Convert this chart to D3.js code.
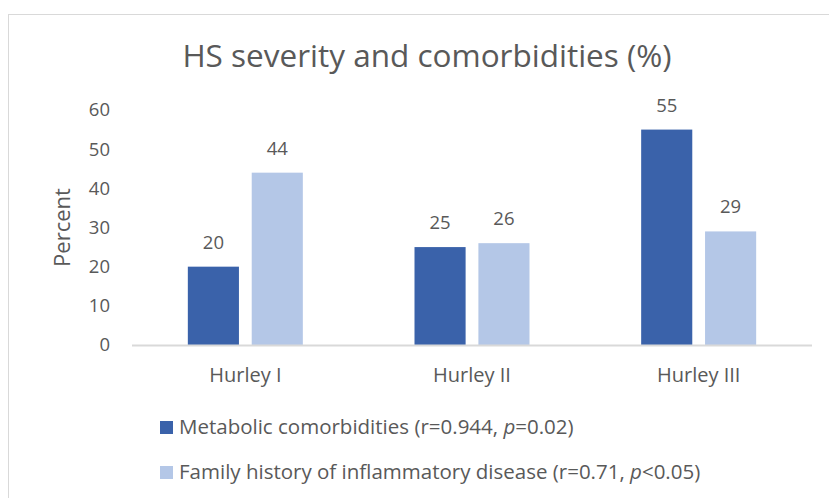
<!DOCTYPE html>
<html>
<head>
<meta charset="utf-8">
<script src="https://cdn.jsdelivr.net/npm/d3@7"></script>
<style>
  body { margin: 0; background: #fff; }
  text { font-family: "Open Sans", sans-serif; fill: #595959; }
</style>
</head>
<body>
<div id="chart"></div>
<script>
// chart data
const categories = ["Hurley I", "Hurley II", "Hurley III"];
const seriesNames = [
  "Metabolic comorbidities",
  "Family history of inflammatory disease"
];
const metabolic = [20, 25, 55];
const familyHistory = [44, 26, 29];
const yTicks = [0, 10, 20, 30, 40, 50, 60];
const colors = ["#3a62aa", "#b4c7e7"];

const width = 829, height = 498;
const margin = {top: 110, right: 17, bottom: 153, left: 132};

var svg = d3.select("#chart").append("svg")
    .attr("width", width)
    .attr("height", height);

// chart border
svg.append("rect")
    .attr("x", 8.5).attr("y", 14.5)
    .attr("width", width).attr("height", height)
    .attr("fill", "none")
    .attr("stroke", "#d9d9d9");

var x0 = d3.scaleBand()
    .domain(categories)
    .range([margin.left, width - margin.right]);

var x1 = d3.scaleBand()
    .domain([0, 1])
    .range([0, 115])
    .paddingInner(0.2);

var y = d3.scaleLinear()
    .domain([0, 60])
    .range([height - margin.bottom, margin.top]);

// title
svg.append("text")
    .attr("x", 427).attr("y", 67)
    .attr("text-anchor", "middle")
    .style("font-size", "31.5px")
    .text("HS severity and comorbidities (%)");

// y axis labels (no line)
var yAxis = svg.append("g")
    .attr("transform", "translate(" + (margin.left - 22) + ",0)")
    .call(d3.axisLeft(y).tickValues(yTicks).tickSize(0).tickPadding(0));
yAxis.select(".domain").remove();
yAxis.selectAll("text")
    .style("font-size", "18.5px")
    .style("font-family", "\"Open Sans\", sans-serif")
    .attr("fill", "#595959");

svg.append("text")
    .attr("transform", "translate(70," + y(30) + ") rotate(-90)")
    .attr("text-anchor", "middle")
    .style("font-size", "22px")
    .text("Percent");

// bars
var series = [metabolic, familyHistory];
var groups = svg.append("g").selectAll("g")
    .data(categories)
    .enter().append("g")
    .attr("transform", function(d) {
      return "translate(" + (x0(d) + x0.bandwidth() / 2 - 57.5) + ",0)";
    });

groups.selectAll("rect")
    .data(function(d, i) { return series.map(function(s, j) { return {s: j, v: s[i]}; }); })
    .enter().append("rect")
    .attr("x", function(d) { return x1(d.s); })
    .attr("y", function(d) { return y(d.v); })
    .attr("width", x1.bandwidth())
    .attr("height", function(d) { return y(0) - y(d.v); })
    .attr("fill", function(d) { return colors[d.s]; });

groups.selectAll("text.val")
    .data(function(d, i) { return series.map(function(s, j) { return {s: j, v: s[i]}; }); })
    .enter().append("text")
    .attr("class", "val")
    .attr("x", function(d) { return x1(d.s) + x1.bandwidth() / 2; })
    .attr("y", function(d) { return y(d.v) - 18; })
    .attr("text-anchor", "middle")
    .style("font-size", "18.5px")
    .text(function(d) { return d.v; });

// baseline
svg.append("line")
    .attr("x1", margin.left).attr("x2", width - margin.right)
    .attr("y1", y(0) + 0.5).attr("y2", y(0) + 0.5)
    .attr("stroke", "#d9d9d9")
    .attr("stroke-width", 2);

// x axis labels
var xAxis = svg.append("g")
    .attr("transform", "translate(0," + y(0) + ")")
    .call(d3.axisBottom(x0).tickSize(0).tickPadding(23));
xAxis.select(".domain").remove();
xAxis.selectAll("text")
    .style("font-size", "20px")
    .style("font-family", "\"Open Sans\", sans-serif")
    .attr("fill", "#595959");

// legend
var stats = [
  {r: "0.944", op: "=", p: "0.02"},
  {r: "0.71", op: "<", p: "0.05"}
];
var legend = svg.append("g").selectAll("g")
    .data(seriesNames)
    .enter().append("g")
    .attr("transform", function(d, i) { return "translate(160," + (421 + i * 45) + ")"; });

legend.append("rect")
    .attr("width", 13).attr("height", 13)
    .attr("fill", function(d, i) { return colors[i]; });

var lt = legend.append("text")
    .attr("x", 19).attr("y", 13)
    .style("font-size", "20.5px");
lt.append("tspan").text(function(d, i) { return d + " (r=" + stats[i].r + ", "; });
lt.append("tspan").style("font-style", "italic").text("p");
lt.append("tspan").text(function(d, i) { return stats[i].op + stats[i].p + ")"; });
</script>
</body>
</html>
